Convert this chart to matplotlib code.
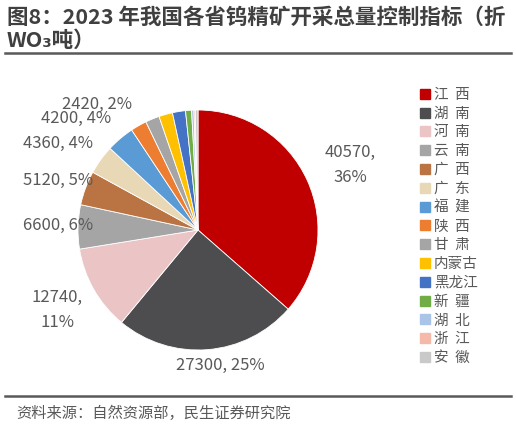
import matplotlib.pyplot as plt
from matplotlib.lines import Line2D

plt.rcParams['font.family'] = ['Noto Sans CJK SC', 'DejaVu Sans']

# 2023 tungsten concentrate quota by province (t, WO3)
provinces = ['江  西', '湖  南', '河  南', '云  南', '广  西', '广  东', '福  建', '陕  西',
             '甘  肃', '内蒙古', '黑龙江', '新  疆', '湖  北', '浙  江', '安  徽']
quota = [40570, 27300, 12740, 6600, 5120, 4360, 4200, 2420,
         2100, 2050, 1950, 900, 350, 200, 400]
colors = ['#C00000', '#4D4D4F', '#EBC5C5', '#A5A5A5', '#BA7443', '#E8D8B6', '#5B9BD5', '#ED7D31',
          '#A5A5A5', '#FFC000', '#4472C4', '#70AD47', '#A9C4E6', '#F4B9A8', '#C9C9C9']
# data labels shown for first 8 slices
label_txt = ['40570,\n36%', '27300, 25%', '12740,\n11%', '6600, 6%', '5120, 5%',
             '4360, 4%', '4200, 4%', '2420, 2%']
# label anchor positions in pixel space (x, y from top)
label_pos = [(350, 165), (220, 365), (57, 310), (58, 225), (58, 180),
             (58, 143), (76, 118), (97, 104)]

W, H = 516, 428
fig = plt.figure(figsize=(W / 100, H / 100), dpi=100)

cx, cy, r = 198, 230, 120
ax = fig.add_axes([(cx - r) / W, (H - cy - r) / H, 2 * r / W, 2 * r / H])
ax.pie(quota, colors=colors, startangle=90, counterclock=False,
       wedgeprops=dict(edgecolor='white', linewidth=0.6))
ax.set_xlim(-1, 1)
ax.set_ylim(-1, 1)
ax.set_aspect('equal')

for t, (px, py) in zip(label_txt, label_pos):
    fig.text(px / W, 1 - py / H, t, ha='center', va='center', fontsize=12,
             color='#595959', linespacing=1.6)

# legend
handles = [Line2D([], [], marker='s', linestyle='none', markersize=7,
                  markerfacecolor=c, markeredgecolor=c) for c in colors]
fig.legend(handles, provinces, loc='upper left', bbox_to_anchor=(412 / W, 1 - 82 / H),
           frameon=False, fontsize=10.5, labelcolor='#595959', handletextpad=0.1,
           labelspacing=0.33, handlelength=1.0, borderaxespad=0)

# title
fig.text(7 / W, 1 - 17 / H, '图8：2023 年我国各省钨精矿开采总量控制指标（折',
         fontsize=15.5, fontweight='bold', color='#404040', va='center', ha='left')
fig.text(7 / W, 1 - 40 / H, 'WO₃吨）', fontsize=15.5, fontweight='bold',
         color='#404040', va='center', ha='left')

fig.add_artist(Line2D([5 / W, 511 / W], [1 - 53 / H, 1 - 53 / H], color='#595959', lw=1.8))
fig.add_artist(Line2D([5 / W, 511 / W], [1 - 396 / H, 1 - 396 / H], color='#595959', lw=1.8))

fig.text(16 / W, 1 - 413 / H, '资料来源：自然资源部，民生证券研究院', fontsize=11,
         color='#595959', va='center', ha='left')

fig.savefig('out.png', dpi=100)
